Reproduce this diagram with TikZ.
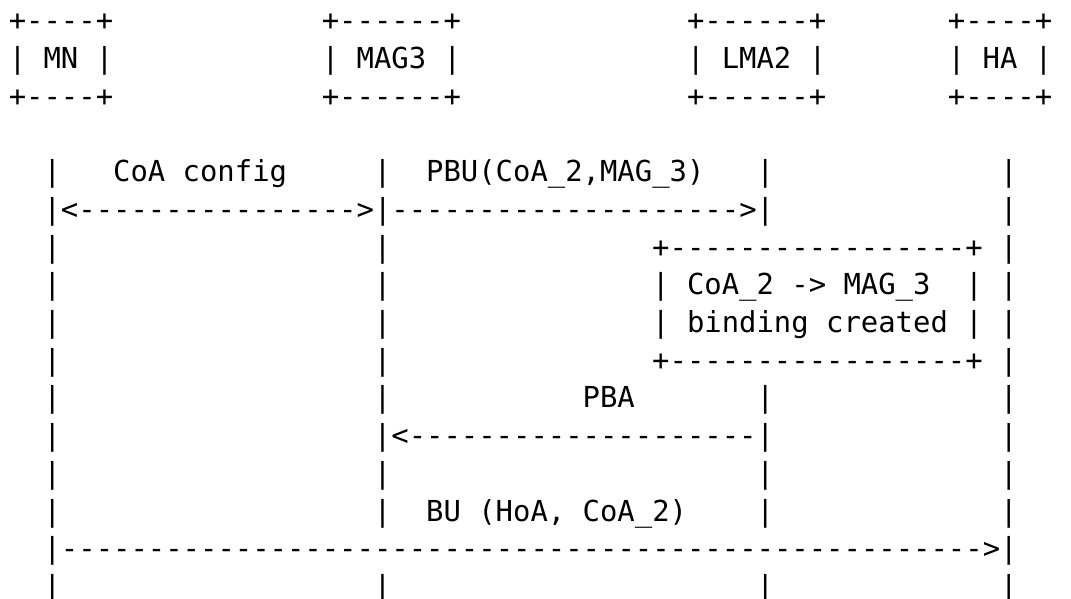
\documentclass[tikz,border=0pt]{standalone}
\usepackage{fontspec}
\setmonofont{DejaVu Sans Mono}
\ExplSyntaxOn
\cs_new:Npn \asciirule #1 { \prg_replicate:nn {#1} {-} }
\ExplSyntaxOff
% one run of monospaced characters, placed at (column,row) of the character grid
\newcommand\asciiat[4]{\node[glyphs] (#1) at (#2,#3) {#4};}
\begin{document}
\begin{tikzpicture}[x=17.39pt,y=-37.7pt,
  glyphs/.style={anchor=base west,inner sep=0pt,outer sep=0pt,text=black,
    font=\ttfamily\fontsize{28.89pt}{37.7pt}\selectfont}]
\useasboundingbox[fill=white] (-0.506,-0.822) rectangle (61.08,15.04);

% participant boxes
\asciiat{mnTop}{0}{0}{+----+}
\asciiat{magTop}{18}{0}{+------+}
\asciiat{lmaTop}{39}{0}{+------+}
\asciiat{haTop}{54}{0}{+----+}
\asciiat{mnName}{0}{1}{| MN |}
\asciiat{magName}{18}{1}{| MAG3 |}
\asciiat{lmaName}{39}{1}{| LMA2 |}
\asciiat{haName}{54}{1}{| HA |}
\asciiat{mnBot}{0}{2}{+----+}
\asciiat{magBot}{18}{2}{+------+}
\asciiat{lmaBot}{39}{2}{+------+}
\asciiat{haBot}{54}{2}{+----+}

% lifelines
\foreach \r in {4,6,7,8,9,10,11,12,13,15} {\asciiat{mn\r}{2}{\r}{|}}
\foreach \r in {4,6,7,8,9,10,12,13,15} {\asciiat{mag\r}{21}{\r}{|}}
\foreach \r in {4,10,12,13,15} {\asciiat{lma\r}{43}{\r}{|}}
\foreach \r in {4,5,6,7,8,9,10,11,12,13,15} {\asciiat{ha\r}{57}{\r}{|}}

% CoA configuration and proxy binding update
\asciiat{cfgLabel}{6}{4}{CoA config}
\asciiat{pbuLabel}{24}{4}{PBU(CoA\_2,MAG\_3)}
\asciiat{cfgArrow}{2}{5}{|<\asciirule{16}>|\asciirule{20}>|}

% binding cache entry at the LMA
\asciiat{bceTop}{37}{6}{+\asciirule{17}+}
\asciiat{bceLineA}{37}{7}{| CoA\_2 -> MAG\_3}
\asciiat{bceRight}{55}{7}{|}
\asciiat{bceLineB}{37}{8}{| binding created |}
\asciiat{bceBot}{37}{9}{+\asciirule{17}+}

% proxy binding acknowledgement
\asciiat{pbaLabel}{33}{10}{PBA}
\asciiat{pbaArrow}{21}{11}{|<\asciirule{20}|}

% binding update towards the HA
\asciiat{buLabel}{24}{13}{BU (HoA, CoA\_2)}
\asciiat{buArrow}{2}{14}{|\asciirule{53}>|}
\end{tikzpicture}
\end{document}
